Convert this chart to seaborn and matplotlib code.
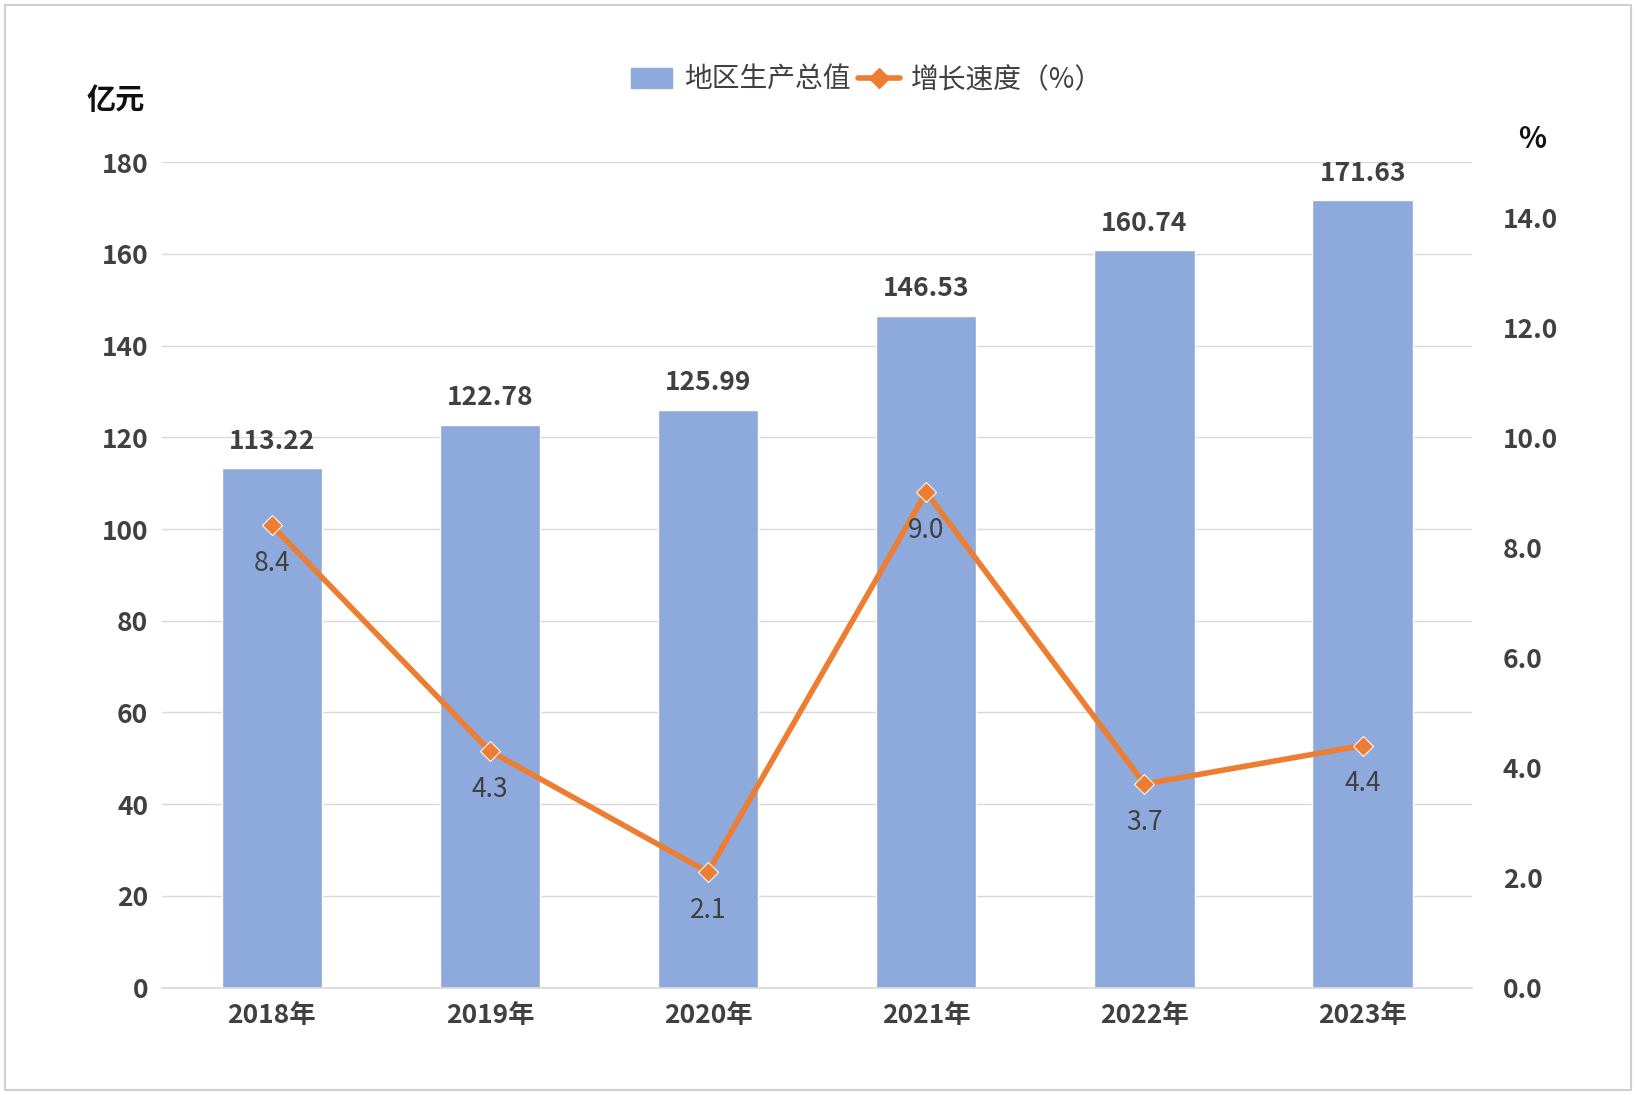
import matplotlib
matplotlib.use('Agg')
import matplotlib.pyplot as plt
import seaborn as sns
import pandas as pd
from matplotlib.lines import Line2D
from matplotlib.patches import Patch, Rectangle

years = ['2018年', '2019年', '2020年', '2021年', '2022年', '2023年']
gdp = [113.22, 122.78, 125.99, 146.53, 160.74, 171.63]
growth = [8.4, 4.3, 2.1, 9.0, 3.7, 4.4]

sns.set_theme(style='white')
plt.rcParams['font.family'] = ['Noto Sans CJK SC', 'DejaVu Sans']

bar_c = '#8EA9DB'
line_c = '#ED7D31'
txt_c = '#404040'

fig = plt.figure(figsize=(16.36, 10.95), dpi=100)
ax = fig.add_axes([0.099, 0.098, 0.801, 0.754])
df = pd.DataFrame({'year': years, 'gdp': gdp, 'growth': growth})
sns.barplot(data=df, x='year', y='gdp', color=bar_c, width=0.46, saturation=1, ax=ax)
ax.set_ylim(0, 180)
ax.set_yticks(range(0, 181, 20))
ax.yaxis.grid(True, color='#d9d9d9', lw=1)
ax.set_axisbelow(True)
for s in ax.spines.values():
    s.set_visible(False)
ax.spines['bottom'].set_visible(True)
ax.spines['bottom'].set_color('#d9d9d9')
ax.set_xlabel('')
ax.set_ylabel('')
ax.tick_params(axis='both', length=0, labelsize=19, labelcolor=txt_c, pad=10)
for lab in ax.get_xticklabels() + ax.get_yticklabels():
    lab.set_fontweight('bold')
for i, v in enumerate(gdp):
    ax.text(i, v + 3, f'{v:.2f}', ha='center', va='bottom', fontsize=19,
            fontweight='bold', color=txt_c)

ax2 = ax.twinx()
sns.lineplot(x=list(range(len(years))), y=growth, color=line_c, lw=4,
             marker='D', markersize=10, ax=ax2)
ax2.set_ylim(0, 15)
ax2.set_yticks(range(0, 15, 2))
ax2.set_yticklabels([f'{t:.1f}' for t in range(0, 15, 2)])
for s in ax2.spines.values():
    s.set_visible(False)
ax2.tick_params(axis='y', length=0, labelsize=19, labelcolor=txt_c, pad=22)
for lab in ax2.get_yticklabels():
    lab.set_fontweight('bold')
ax2.grid(False)
for i, v in enumerate(growth):
    ax2.text(i, v - 0.45, f'{v:.1f}', ha='center', va='top', fontsize=19, color=txt_c)

fig.text(0.053, 0.9, '亿元', fontsize=21, fontweight='bold', color='#111111')
fig.text(0.928, 0.865, '%', fontsize=21, fontweight='bold', color='#111111')

handles = [Patch(color=bar_c, label='地区生产总值'),
           Line2D([0], [0], color=line_c, lw=4, marker='D', markersize=10, label='增长速度（%）')]
fig.legend(handles=handles, loc='center', bbox_to_anchor=(0.53, 0.927), ncol=2,
           frameon=False, fontsize=20, labelcolor=txt_c, handlelength=1.5,
           columnspacing=0.3, handletextpad=0.4)

fig.patches.append(Rectangle((0.003, 0.005), 0.994, 0.99, transform=fig.transFigure,
                             fill=False, edgecolor='#d0d0d0', lw=1.5))
fig.savefig('out.png', dpi=100, facecolor='white')
